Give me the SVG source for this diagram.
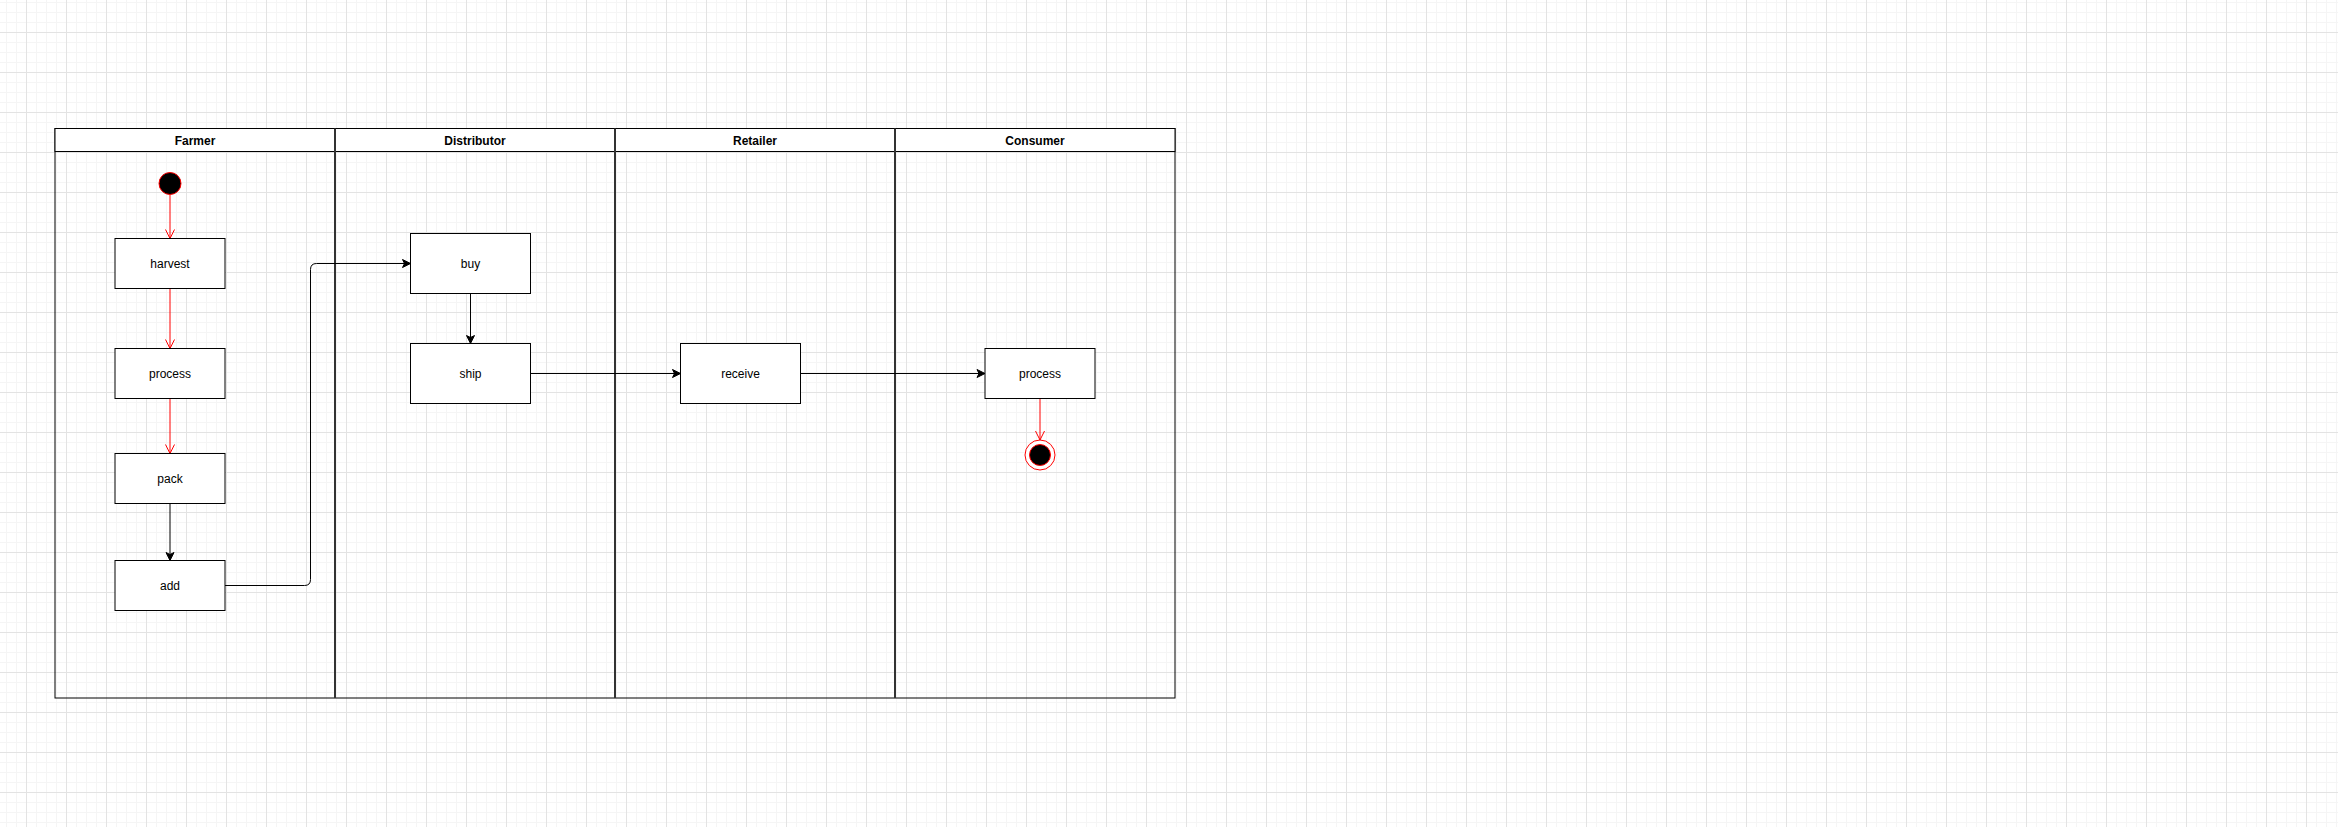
<svg xmlns="http://www.w3.org/2000/svg" width="2338" height="827" viewBox="0 0 2338 827">
  <defs>
    <pattern id="grid" x="26" y="32" width="40" height="40" patternUnits="userSpaceOnUse">
      <path d="M10.5,0 V40 M20.5,0 V40 M30.5,0 V40 M0,10.5 H40 M0,20.5 H40 M0,30.5 H40" fill="none" stroke="#f5f5f5" stroke-width="1"/>
      <path d="M0.5,0 V40 M0,0.5 H40" fill="none" stroke="#e3e3e3" stroke-width="1"/>
    </pattern>
    <marker id="arrBlack" markerUnits="userSpaceOnUse" markerWidth="12" markerHeight="12" viewBox="-10 -6 12 12" refX="0" refY="0" orient="auto">
      <path d="M-8,-4 L0,0 L-8,4 L-6,0 Z" fill="#000" stroke="#000" stroke-width="1" stroke-linejoin="miter"/>
    </marker>
    <marker id="arrRed" markerUnits="userSpaceOnUse" markerWidth="14" markerHeight="14" viewBox="-11 -7 14 14" refX="0" refY="0" orient="auto">
      <path d="M-9,-4.5 L0,0 L-9,4.5" fill="none" stroke="#ff0000" stroke-width="1"/>
    </marker>
  </defs>
  <style>
    .node rect { fill: #ffffff; stroke: #000000; stroke-width: 1; }
    .lbl { font-family: "Liberation Sans", Helvetica, Arial, sans-serif; font-size: 12px; fill: #000; text-anchor: middle; }
    .hdr { font-family: "Liberation Sans", Helvetica, Arial, sans-serif; font-size: 12px; font-weight: bold; fill: #000; text-anchor: middle; }
    .lane-hdr { fill: #ffffff; stroke: #000000; stroke-width: 1; }
    .edge { fill: none; stroke: #000000; stroke-width: 1; }
    .edge-red { fill: none; stroke: #ff0000; stroke-width: 1; }
  </style>

  <rect x="0" y="0" width="2338" height="827" fill="#ffffff"/>
  <rect x="0" y="0" width="2338" height="827" fill="url(#grid)"/>

  <g id="pool">
    <rect x="55" y="128.5" width="1120" height="569.5" fill="none" stroke="#000" stroke-width="1"/>
    <g id="lane-farmer">
      <rect class="lane-hdr" x="55" y="128.5" width="280" height="23"/>
      <text class="hdr" x="195" y="144.5">Farmer</text>
    </g>
    <g id="lane-distributor">
      <rect class="lane-hdr" x="335" y="128.5" width="280" height="23"/>
      <text class="hdr" x="475" y="144.5">Distributor</text>
    </g>
    <g id="lane-retailer">
      <rect class="lane-hdr" x="615" y="128.5" width="280" height="23"/>
      <text class="hdr" x="755" y="144.5">Retailer</text>
    </g>
    <g id="lane-consumer">
      <rect class="lane-hdr" x="895" y="128.5" width="280" height="23"/>
      <text class="hdr" x="1035" y="144.5">Consumer</text>
    </g>
    <path d="M335,128.5 V698 M615,128.5 V698 M895,128.5 V698" fill="none" stroke="#333333" stroke-width="2"/>
  </g>

  <g id="connectors">
    <line class="edge-red" x1="170" y1="194.5" x2="170" y2="238.5" marker-end="url(#arrRed)"/>
    <line class="edge-red" x1="170" y1="288.5" x2="170" y2="348.5" marker-end="url(#arrRed)"/>
    <line class="edge-red" x1="170" y1="398.5" x2="170" y2="453.5" marker-end="url(#arrRed)"/>
    <line class="edge" x1="170" y1="503.5" x2="170" y2="560.5" marker-end="url(#arrBlack)"/>
    <path class="edge" d="M225,585.5 H304.5 Q310.5,585.5 310.5,579.5 V269.5 Q310.5,263.5 316.5,263.5 H410.5" marker-end="url(#arrBlack)"/>
    <line class="edge" x1="470.5" y1="293.5" x2="470.5" y2="343.5" marker-end="url(#arrBlack)"/>
    <line class="edge" x1="530.5" y1="373.5" x2="680.5" y2="373.5" marker-end="url(#arrBlack)"/>
    <line class="edge" x1="800.5" y1="373.5" x2="985" y2="373.5" marker-end="url(#arrBlack)"/>
    <line class="edge-red" x1="1040" y1="398.5" x2="1040" y2="440" marker-end="url(#arrRed)"/>
  </g>

  <g id="start">
    <circle cx="170" cy="183.5" r="11" fill="#000000" stroke="#ff0000" stroke-width="1"/>
  </g>
  <g id="harvest" class="node">
    <rect x="115" y="238.5" width="110" height="50"/>
    <text class="lbl" x="170" y="267.5">harvest</text>
  </g>
  <g id="process-farmer" class="node">
    <rect x="115" y="348.5" width="110" height="50"/>
    <text class="lbl" x="170" y="377.5">process</text>
  </g>
  <g id="pack" class="node">
    <rect x="115" y="453.5" width="110" height="50"/>
    <text class="lbl" x="170" y="482.5">pack</text>
  </g>
  <g id="add" class="node">
    <rect x="115" y="560.5" width="110" height="50"/>
    <text class="lbl" x="170" y="589.5">add</text>
  </g>
  <g id="buy" class="node">
    <rect x="410.5" y="233.5" width="120" height="60"/>
    <text class="lbl" x="470.5" y="267.5">buy</text>
  </g>
  <g id="ship" class="node">
    <rect x="410.5" y="343.5" width="120" height="60"/>
    <text class="lbl" x="470.5" y="377.5">ship</text>
  </g>
  <g id="receive" class="node">
    <rect x="680.5" y="343.5" width="120" height="60"/>
    <text class="lbl" x="740.5" y="377.5">receive</text>
  </g>
  <g id="process-consumer" class="node">
    <rect x="985" y="348.5" width="110" height="50"/>
    <text class="lbl" x="1040" y="377.5">process</text>
  </g>
  <g id="end">
    <circle cx="1040" cy="455" r="15" fill="#ffffff" stroke="#ff0000" stroke-width="1"/>
    <circle cx="1040" cy="455" r="10.5" fill="#000000" stroke="#ff0000" stroke-width="1"/>
  </g>
</svg>
